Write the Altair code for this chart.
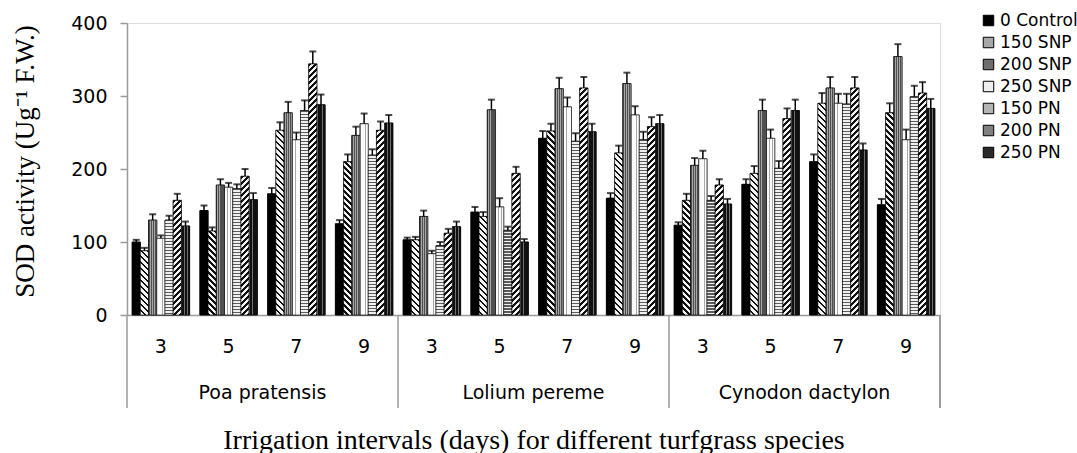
import altair as alt
import pandas as pd

species = ["Poa pratensis", "Lolium pereme", "Cynodon dactylon"]
intervals = ["3", "5", "7", "9"]
treatments = ["0 Control", "150 SNP", "200 SNP", "250 SNP", "150 PN", "200 PN", "250 PN"]

# values per treatment: Poa 3,5,7,9 | Lolium 3,5,7,9 | Cynodon 3,5,7,9
sod_control = [100, 143, 166, 125, 103, 141, 242, 160, 123, 179, 210, 151]
sod_150snp = [88, 115, 253, 210, 103, 135, 252, 222, 157, 194, 290, 277]
sod_200snp = [130, 178, 277, 246, 135, 281, 310, 317, 205, 280, 311, 354]
sod_250snp = [105, 175, 240, 262, 84, 148, 285, 274, 214, 242, 290, 240]
sod_150pn = [130, 173, 280, 219, 95, 116, 238, 240, 157, 201, 289, 299]
sod_200pn = [157, 190, 344, 253, 112, 194, 311, 258, 178, 269, 311, 304]
sod_250pn = [122, 158, 288, 263, 121, 100, 251, 262, 152, 280, 226, 283]

err_control = [3, 7, 8, 5, 3, 7, 10, 7, 4, 7, 10, 8]
err_150snp = [4, 5, 11, 10, 4, 6, 10, 10, 9, 10, 14, 13]
err_200snp = [8, 8, 15, 12, 8, 14, 15, 15, 10, 15, 15, 17]
err_250snp = [4, 6, 10, 14, 4, 12, 13, 12, 11, 12, 13, 14]
err_150pn = [6, 6, 14, 8, 5, 5, 11, 11, 6, 10, 14, 15]
err_200pn = [9, 10, 17, 12, 6, 9, 15, 13, 8, 14, 15, 15]
err_250pn = [6, 9, 14, 11, 7, 4, 11, 12, 7, 15, 9, 13]

# legend / base tones
fills = ["#000000", "#a8a8a8", "#6e6e6e", "#eeeeee", "#b4b4b4", "#808080", "#2a2a2a"]

all_vals = [sod_control, sod_150snp, sod_200snp, sod_250snp, sod_150pn, sod_200pn, sod_250pn]
all_errs = [err_control, err_150snp, err_200snp, err_250snp, err_150pn, err_200pn, err_250pn]

groups = [f"{s}|{i}" for s in species for i in intervals]

W, H = 813, 292
BAR_W = (W / len(groups)) / (len(treatments) + 1.25)
PX_PER_UNIT = H / 400.0


def stripe_stops(period, duty, c1, c2, smax):
    stops = []
    s = 0.0
    while s < smax and s < 1:
        a = min(s, 1.0)
        b = min(s + duty * period, 1.0)
        c = min(s + period, 1.0)
        stops += [{"offset": round(a, 8), "color": c1}, {"offset": round(b, 8), "color": c1},
                  {"offset": round(b, 8), "color": c2}, {"offset": round(c, 8), "color": c2}]
        s += period
    return stops


def vstripes(n, duty, c1, c2):
    return {"gradient": "linear", "x1": 0, "y1": 0, "x2": 1, "y2": 0,
            "stops": stripe_stops(1.0 / n, duty, c1, c2, 1.0)}


def hstripes(h, p, duty, c1, c2):
    return {"gradient": "linear", "x1": 0, "y1": 0, "x2": 0, "y2": 1,
            "stops": stripe_stops(p / h, duty, c1, c2, 1.0)}


def diag(h, p, duty, c1, c2, forward=True):
    w = BAR_W
    t = h / w
    den = w * (1 + t * t)
    smax = (w + h) / den
    g = {"gradient": "linear", "stops": stripe_stops(p / den, duty, c1, c2, smax)}
    if forward:
        g.update({"x1": 0, "y1": 0, "x2": 1, "y2": t})
    else:
        g.update({"x1": 1, "y1": 0, "x2": 0, "y2": t})
    return g


def texture(treat, value):
    h = max(value * PX_PER_UNIT, 1.0)
    if treat == "0 Control":
        return "#000000"
    if treat == "150 SNP":
        return diag(h, 6.0, 0.45, "#111111", "#f4f4f4", forward=False)
    if treat == "200 SNP":
        return vstripes(4, 0.55, "#505050", "#a6a6a6")
    if treat == "250 SNP":
        return vstripes(3, 0.22, "#a8a8a8", "#fbfbfb")
    if treat == "150 PN":
        return hstripes(h, 3.0, 0.4, "#5c5c5c", "#f0f0f0")
    if treat == "200 PN":
        return diag(h, 6.0, 0.5, "#111111", "#f4f4f4", forward=True)
    return vstripes(3, 0.25, "#707070", "#111111")


rows = []
for t, vals, errs in zip(treatments, all_vals, all_errs):
    for g, v, e in zip(groups, vals, errs):
        rows.append({"group": g, "treatment": t, "value": v, "err": e, "top": v + e})
df = pd.DataFrame(rows)
tex_records = [dict(r, tex=texture(r["treatment"], r["value"])) for r in rows]

grp_df = pd.DataFrame({"group": groups, "interval": [g.split("|")[1] for g in groups]})
sp_df = pd.DataFrame({"species": species,
                      "start": [f"{s}|3" for s in species],
                      "mid": [f"{s}|5" for s in species]})

AX = "#9a9a9a"
SANS = "DejaVu Sans"
SERIF = "Liberation Serif"

xscale = alt.Scale(domain=groups, paddingInner=0, paddingOuter=0)
xaxis = alt.Axis(labels=False, ticks=False, title="Irrigation intervals (days) for different turfgrass species",
                 titleFont=SERIF, titleFontSize=28, titleFontWeight="normal", titleColor="black",
                 titleX=W / 2, titleY=125, titleBaseline="middle", titleAlign="center",
                 domainColor=AX, domainWidth=1.5, grid=False)


def xenc(field="group", bp=None):
    if bp is None:
        return alt.X(f"{field}:N", scale=xscale, axis=xaxis)
    return alt.X(f"{field}:N", scale=xscale, axis=xaxis, bandPosition=bp)


xoff = alt.XOffset("treatment:N", scale=alt.Scale(domain=treatments, paddingOuter=0.625, paddingInner=0))
yenc = alt.Y("value:Q", scale=alt.Scale(domain=[0, 400], nice=False),
             axis=alt.Axis(values=list(range(0, 401, 50)), grid=False, tickSize=7, tickColor=AX, tickWidth=1.5,
                           domainColor=AX, domainWidth=1.5, labelFont=SANS, labelFontSize=19, labelColor="black",
                           labelPadding=13, title="SOD activity (Ug\u207b\u00b9 F.W.)", titleFont=SERIF,
                           titleFontSize=27, titleFontWeight="normal", titleColor="black", titleAngle=-90,
                           titleX=-102, titleY=138, titleBaseline="middle", titleAlign="center"))

bars = alt.Chart(df).mark_bar(stroke="black", strokeWidth=0.6).encode(
    x=xenc(), xOffset=xoff, y=yenc,
    color=alt.Color("treatment:N", scale=alt.Scale(domain=treatments, range=fills),
                    legend=alt.Legend(title=None, orient="none", legendX=853, legendY=-11, padding=0,
                                      symbolType="square", symbolSize=110, symbolStrokeColor="black",
                                      symbolStrokeWidth=1, labelFont=SANS, labelFontSize=17,
                                      labelColor="black", labelOffset=3, rowPadding=4)),
)

tex_bars = alt.Chart(alt.InlineData(values=tex_records)).mark_bar(stroke="black", strokeWidth=0.6).encode(
    x=xenc(), xOffset=xoff, y="value:Q",
    fill=alt.Fill("tex:N", scale=None, legend=None),
)

err_rule = alt.Chart(df).mark_rule(color="black", strokeWidth=1.5).encode(
    x=xenc(), xOffset=xoff, y="value:Q", y2="top:Q")
err_cap = alt.Chart(df).mark_tick(color="black", thickness=2, size=7).encode(
    x=xenc(), xOffset=xoff, y="top:Q")

int_labels = alt.Chart(grp_df).mark_text(font=SANS, fontSize=19, color="black", baseline="middle").encode(
    x=xenc("group", 0.5), y=alt.value(H + 32), text="interval:N")

sp_labels = alt.Chart(sp_df).mark_text(font=SANS, fontSize=19, color="black", baseline="middle").encode(
    x=xenc("mid", 1), y=alt.value(H + 78), text="species:N")

seps = alt.Chart(sp_df).mark_rule(color=AX, strokeWidth=1.5).encode(
    x=xenc("start", 0), y=alt.value(H), y2=alt.value(H + 93))
sep_end = alt.Chart(sp_df).mark_rule(color=AX, strokeWidth=1.5).encode(
    x=alt.value(W), y=alt.value(H), y2=alt.value(H + 93))

chart = alt.layer(bars, tex_bars, err_rule, err_cap, int_labels, sp_labels, seps, sep_end).properties(
    width=W, height=H,
    autosize=alt.AutoSizeParams(type="none"),
    padding={"left": 127, "top": 23, "right": 137, "bottom": 138},
).configure_view(stroke=None).configure(background="white")

chart.save("out.html", embed_options={"renderer": "svg", "actions": False})
